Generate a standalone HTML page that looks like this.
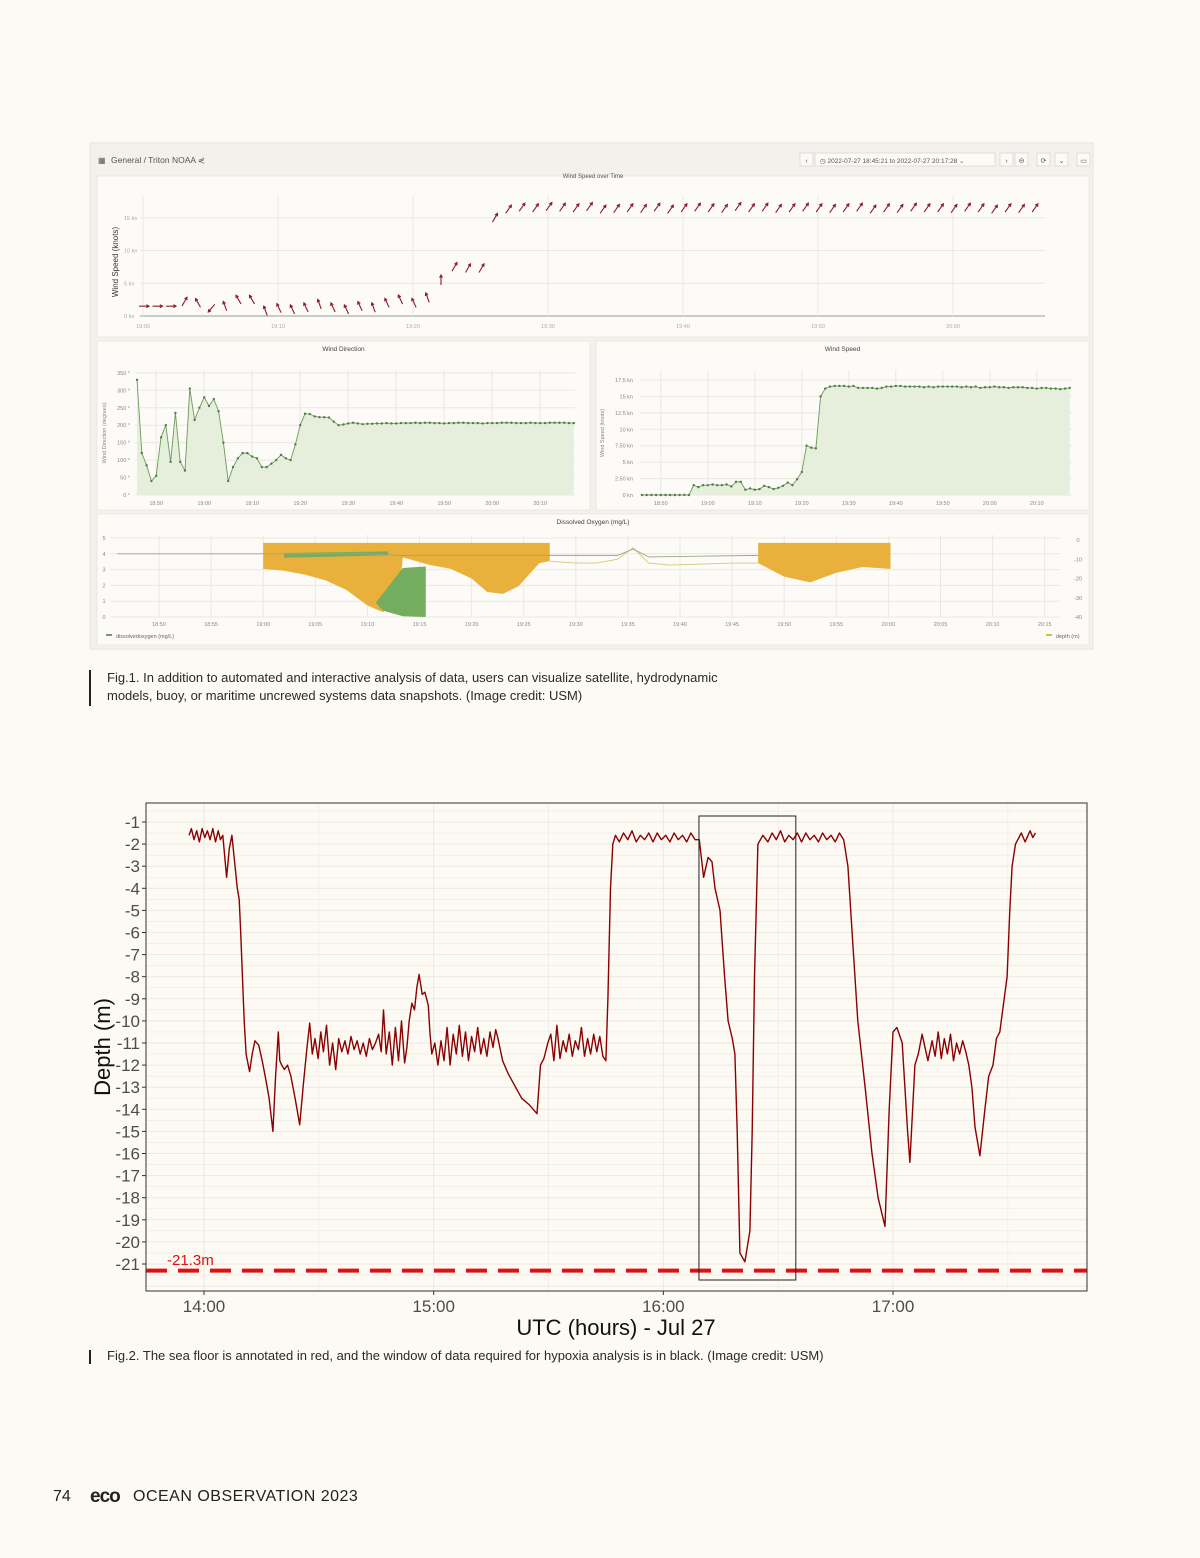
<!DOCTYPE html>
<html><head><meta charset="utf-8"><style>
html,body{margin:0;padding:0;background:#fdfaf4;}
body{width:1200px;height:1558px;position:relative;overflow:hidden;font-family:"Liberation Sans",sans-serif;}
svg{position:absolute;left:0;top:0;}
.cap{position:absolute;left:107px;font-size:13px;color:#2a2a2a;line-height:18px;}
.bar{position:absolute;left:89px;width:2px;background:#222;}
</style></head><body>
<svg id="svg" width="1200" height="1558" viewBox="0 0 1200 1558" xmlns="http://www.w3.org/2000/svg" font-family="Liberation Sans, sans-serif"></svg>
<div class="bar" style="top:670px;height:36px"></div>
<div class="cap" style="top:669px">Fig.1. In addition to automated and interactive analysis of data, users can visualize satellite, hydrodynamic<br>models, buoy, or maritime uncrewed systems data snapshots. (Image credit: USM)</div>
<div class="bar" style="top:1350px;height:14px"></div>
<div class="cap" style="top:1347px">Fig.2. The sea floor is annotated in red, and the window of data required for hypoxia analysis is in black. (Image credit: USM)</div>
<div style="position:absolute;left:53px;top:1488px;font-size:16px;color:#222;white-space:nowrap">
<span>74</span>
<span style="position:absolute;left:37px;top:-2px;font-weight:900;font-size:19px;letter-spacing:-1px">eco</span>
<span style="position:absolute;left:80px;top:0;letter-spacing:0.5px">OCEAN OBSERVATION 2023</span>
</div>
<script>
// ---------- Fig 2 data: depth (minutes after 14:00, metres) ----------
const depthMin = [-3.9,-3.3,-2.6,-1.9,-1.2,-0.5,0.2,0.9,1.6,2.3,3.0,3.7,4.3,4.9,5.9,6.6,7.3,8.0,8.7,9.2,9.6,10.5,11.0,11.9,12.6,13.3,14.3,15.2,16.1,17.0,18.0,18.7,19.4,19.8,20.3,21.0,21.8,22.7,23.9,25.0,26.0,26.9,27.6,28.3,29.0,29.8,30.5,31.2,32.0,32.8,33.6,34.4,35.2,36.0,36.8,37.6,38.4,39.2,40.0,40.8,41.6,42.4,43.2,44.0,44.8,45.6,46.3,46.9,47.6,48.4,49.2,50.0,50.8,51.6,52.4,53.0,53.6,54.3,55.0,55.6,56.2,57.0,57.7,58.6,59.0,59.5,60.3,61.1,61.9,62.7,63.5,64.3,65.1,65.9,66.7,67.5,68.3,69.1,69.9,70.7,71.5,72.3,73.1,73.9,74.7,75.5,76.2,76.8,78.0,79.5,81.4,83.0,85.0,87.0,87.9,88.8,89.8,90.6,91.4,92.2,93.0,93.8,94.6,95.4,96.2,97.0,97.8,98.6,99.4,100.2,101.0,101.8,102.6,103.4,104.2,105.0,105.5,106.2,106.8,107.5,108.5,109.6,110.7,111.8,112.9,114.0,115.1,116.2,117.3,118.4,119.5,120.6,121.7,122.8,123.9,125.0,126.1,127.2,128.3,129.4,130.5,131.7,132.7,133.5,134.8,136.0,136.9,138.0,138.7,139.3,140.0,141.3,142.6,143.2,143.8,144.7,146.0,147.3,148.4,149.5,150.6,151.7,152.8,153.9,155.0,156.1,157.2,158.3,159.4,160.5,161.6,162.7,163.8,164.9,166.0,167.1,168.2,169.3,170.8,172.7,174.5,176.1,177.9,179.0,180.0,181.0,182.4,183.1,183.8,184.4,185.7,186.6,187.6,189.1,190.2,191.0,191.8,192.6,193.4,194.2,195.0,195.8,196.6,197.4,198.2,199.0,199.8,200.6,201.4,202.7,204.0,205.0,206.1,207.0,207.9,209.8,210.5,211.1,212.0,212.6,213.5,214.5,215.8,216.5,217.2,218.0,218.8,219.7];
const depthVal = [-1.6,-1.3,-1.8,-1.4,-1.9,-1.3,-1.7,-1.4,-1.8,-1.3,-1.9,-1.4,-1.8,-1.6,-3.5,-2.2,-1.6,-2.8,-4.0,-4.5,-6,-10,-11.5,-12.3,-11.5,-10.9,-11.1,-11.8,-12.6,-13.5,-15.0,-12.5,-10.5,-11.8,-12.0,-12.2,-12.0,-12.5,-13.6,-14.7,-12.8,-11.2,-10.1,-11.5,-10.8,-11.7,-10.5,-11.4,-10.2,-12.0,-11.0,-12.2,-10.8,-11.4,-10.9,-11.5,-10.7,-11.3,-10.9,-11.5,-11.0,-11.6,-10.8,-11.3,-11.0,-10.6,-11.4,-9.5,-11.5,-10.5,-12.0,-10.3,-11.8,-10.0,-11.9,-11.2,-10.0,-9.2,-9.5,-8.5,-7.9,-8.8,-8.7,-9.3,-10.5,-11.5,-11.0,-12.0,-10.9,-11.8,-10.3,-12.0,-10.6,-11.5,-10.2,-11.6,-10.5,-11.8,-10.7,-11.4,-10.3,-11.5,-10.8,-11.6,-10.5,-11.2,-10.4,-10.8,-11.8,-12.4,-13.0,-13.5,-13.8,-14.2,-12.0,-11.7,-11.0,-10.6,-11.8,-10.2,-11.7,-10.9,-11.4,-10.6,-11.6,-10.9,-11.3,-10.3,-11.6,-10.8,-11.5,-10.6,-11.4,-10.7,-11.6,-11.8,-9,-4,-2.0,-1.6,-1.9,-1.5,-1.8,-1.4,-1.9,-1.6,-1.8,-1.5,-1.9,-1.5,-1.8,-1.6,-1.9,-1.5,-1.8,-1.6,-1.9,-1.5,-1.8,-1.8,-3.5,-2.6,-2.8,-4,-5,-8,-10,-10.8,-11.5,-15,-20.5,-20.9,-19.5,-15,-8,-2.0,-1.6,-1.9,-1.5,-1.8,-1.4,-1.9,-1.6,-1.8,-1.5,-1.9,-1.5,-1.8,-1.6,-1.9,-1.5,-1.8,-1.6,-1.9,-1.5,-1.8,-3,-6,-10,-13,-16,-18,-19.3,-14,-10.5,-10.3,-11,-13,-15,-16.4,-12,-11.5,-10.6,-11.8,-10.9,-11.6,-10.5,-11.7,-10.8,-11.5,-10.6,-11.8,-11.0,-11.5,-10.9,-11.4,-12,-13,-14.8,-16.1,-14,-12.5,-12,-10.8,-10.5,-8,-5,-3,-2,-1.8,-1.5,-1.9,-1.4,-1.7,-1.5];
const depthTicks = [-1,-2,-3,-4,-5,-6,-7,-8,-9,-10,-11,-12,-13,-14,-15,-16,-17,-18,-19,-20,-21];
const hourTicks = ["14:00","15:00","16:00","17:00"];
const seaFloor = [-21.3];
const windowMin = [129.3,154.6];

// ---------- Fig 1 data ----------
const arrowSpeed = [1.5,1.5,1.5,2.2,2,1.2,1.5,2.5,2.5,0.8,1.2,1,1.3,1.8,1.3,1,1.5,1.3,2,2.5,2,2.8,5.5,7.5,7.3,7.3,15,16.3,16.6,16.5,16.7,16.6,16.5,16.7,16.3,16.4,16.5,16.4,16.6,16.3,16.5,16.6,16.5,16.4,16.7,16.5,16.6,16.4,16.5,16.6,16.5,16.4,16.5,16.6,16.3,16.5,16.4,16.6,16.5,16.5,16.4,16.6,16.5,16.3,16.5,16.4,16.5];
const arrowDir = [90,90,90,30,-30,220,-20,-30,-30,-20,-25,-25,-25,-20,-25,-25,-25,-20,-25,-25,-25,-20,0,30,30,30,30,35,35,35,35,35,35,35,35,35,35,35,35,35,35,35,35,35,35,35,35,35,35,35,35,35,35,35,35,35,35,35,35,35,35,35,35,35,35,35,35];
const windDir = [330,120,85,40,55,165,200,95,235,95,70,305,215,250,280,255,275,240,150,40,80,105,120,120,110,105,80,80,90,100,115,105,100,145,200,233,232,225,223,223,222,210,200,202,205,207,205,203,204,204,205,205,206,205,205,206,206,206,207,206,207,207,206,206,205,206,206,207,207,206,206,206,205,206,206,206,207,207,207,206,206,206,207,206,206,206,207,207,207,207,206,206];
const windSpd = [0,0,0,0,0,0,0,0,0,0,0,1.5,1.2,1.5,1.5,1.6,1.5,1.5,1.6,1.3,2,2,0.8,1,0.8,0.9,1.4,1.2,0.9,1.1,1.4,1.9,1.5,2.4,3.5,7.5,7.2,7.1,15,16.2,16.5,16.6,16.6,16.6,16.5,16.6,16.3,16.3,16.3,16.3,16.2,16.3,16.5,16.5,16.6,16.6,16.5,16.5,16.5,16.5,16.4,16.5,16.4,16.5,16.5,16.5,16.5,16.5,16.4,16.5,16.4,16.5,16.3,16.4,16.4,16.5,16.4,16.4,16.3,16.4,16.4,16.4,16.3,16.3,16.2,16.3,16.3,16.2,16.2,16.1,16.2,16.3];
const doFillMin = [10,12,14,16,18,20,21.5,23,23.4,26,28,30,31.5,33,34.5,35.5,36.5,37.5];
const doFillDepth = [-15,-16,-18,-21,-26,-34,-37.5,-30,-9,-13,-15,-20,-27,-28,-24,-18,-12,-11];
const doFill2Min = [57.5,60,62.5,65,67.5,70.2];
const doFill2Depth = [-12,-19,-22,-17,-14,-15];
const doLineMin = [37.5,40,42,44,45.5,47,49,52,55,57.5];
const doLineDepth = [-11,-12,-12,-10,-4,-12,-13,-12.5,-12,-12];
const doMin = [-4,10,20,23,30,37.5,40,44,45.5,47,52,57.5];
const doVal = [4.0,4.0,4.0,3.9,3.9,3.9,3.9,3.9,4.3,3.8,3.85,3.9];
const doGreenMin = [20.8,23.4,25.6,25.6,23.4,21.5];
const doGreenVal = [0.9,3.1,3.2,0,0.05,0.4];

const NS='http://www.w3.org/2000/svg';
const svg=document.getElementById('svg');
function mk(tag,attrs,parent){const e=document.createElementNS(NS,tag);for(const k in attrs)e.setAttribute(k,attrs[k]);(parent||svg).appendChild(e);return e;}
function txt(x,y,s,size,fill,anchor,parent){const t=mk('text',{x:x,y:y,'font-size':size,fill:fill,'text-anchor':anchor||'start'},parent);t.textContent=s;return t;}

// ===== Fig 1 dashboard =====
const dash=mk('g',{});


mk('rect',{x:90,y:143,width:1003,height:506,fill:'#f3f1ec',stroke:'#e6e3dc'},dash);
const hb=txt(111,163,'General  /  Triton NOAA  ⋞',8.5,'#555','start',dash);


txt(98,163,'▦',8,'#555','start',dash);
const tp=mk('rect',{x:815,y:153,width:180,height:13,fill:'#fbfaf7',stroke:'#ddd'},dash);


txt(820,163,'◷  2022-07-27 18:45:21 to 2022-07-27 20:17:28  ⌄',6.5,'#555','start',dash);
[[800,'‹'],[1000,'›'],[1015,'⊖'],[1037,'⟳'],[1055,'⌄'],[1077,'▭']].forEach(function(b){mk('rect',{x:b[0],y:153,width:13,height:13,fill:'#fbfaf7',stroke:'#ddd'},dash);const t=txt(b[0]+6.5,163,b[1],7,'#555','middle',dash);});

function panel(x,y,w,h,name,title){const g=mk('g',{},dash);mk('rect',{x:x,y:y,width:w,height:h,fill:'#fcfbf7',stroke:'#ebe8e1'},g);if(title)txt(x+w/2,y+10,title,6.5,'#444','middle',g);return g;}

// -- wind speed over time (arrows)
const p1=panel(97,176,992,161,'wind-speed-arrows-panel','');
txt(593,178,'Wind Speed over Time',6,'#555','middle',p1);
const wx=function(m){return 143+m*13.5;}, wy=function(v){return 316-v*6.55;};
[0,5,10,15].forEach(function(v){mk('line',{x1:140,x2:1045,y1:wy(v),y2:wy(v),stroke:'#ebe8e2'},p1);txt(124,wy(v)+2,v+' kn',5.5,'#aaa','start',p1);});
mk('line',{x1:140,x2:1045,y1:316,y2:316,stroke:'#999'},p1);
['19:00','19:10','19:20','19:30','19:40','19:50','20:00'].forEach(function(s,i){mk('line',{x1:wx(i*10),x2:wx(i*10),y1:195,y2:316,stroke:'#ebe8e2'},p1);txt(wx(i*10),328,s,5.5,'#aaa','middle',p1);});
const yl=txt(0,0,'Wind Speed (knots)',8,'#333','middle',p1);yl.setAttribute('transform','translate(118,262) rotate(-90)');
arrowSpeed.forEach(function(s,i){const a=arrowDir[i]*Math.PI/180;const cx=wx(i)+1,cy=wy(s);const dx=Math.sin(a)*5,dy=-Math.cos(a)*5;const g=mk('g',{stroke:'#8a1c2c','stroke-width':1.1,fill:'none'},p1);mk('line',{x1:cx-dx,y1:cy-dy,x2:cx+dx,y2:cy+dy},g);const hx=cx+dx,hy=cy+dy;const b1=a+Math.PI-0.5,b2=a+Math.PI+0.5;mk('polyline',{points:(hx+Math.sin(b1)*3)+','+(hy-Math.cos(b1)*3)+' '+hx+','+hy+' '+(hx+Math.sin(b2)*3)+','+(hy-Math.cos(b2)*3)},g);});

// -- wind direction
const p2=panel(97,341,493,169,'wind-direction-panel','Wind Direction');
const dx2=function(m){return 137+m*4.8;}, dy2=function(v){return 495-v*0.349;};
[0,50,100,150,200,250,300,350].forEach(function(v){mk('line',{x1:135,x2:575,y1:dy2(v),y2:dy2(v),stroke:'#ebe8e2'},p2);txt(130,dy2(v)+2,v+' °',5.5,'#888','end',p2);});
['18:50','19:00','19:10','19:20','19:30','19:40','19:50','20:00','20:10'].forEach(function(s,i){const x=dx2(4+i*10);mk('line',{x1:x,x2:x,y1:370,y2:495,stroke:'#ebe8e2'},p2);txt(x,505,s,5.5,'#888','middle',p2);});
const yl2=txt(0,0,'Wind Direction (degrees)',5.5,'#888','middle',p2);yl2.setAttribute('transform','translate(106,433) rotate(-90)');
let pts2=windDir.map(function(v,i){return dx2(i)+','+dy2(v);});
const a2=mk('polygon',{points:dx2(0)+','+dy2(0)+' '+pts2.join(' ')+' '+dx2(windDir.length-1)+','+dy2(0),fill:'#e6efdc'},p2);
const l2=mk('polyline',{points:pts2.join(' '),fill:'none',stroke:'#6b9b5a','stroke-width':0.9},p2);
windDir.forEach(function(v,i){mk('circle',{cx:dx2(i),cy:dy2(v),r:1.2,fill:'#4f7d45'},p2);});

// -- wind speed
const p3=panel(596,341,493,169,'wind-speed-panel','Wind Speed');
const sx3=function(m){return 642+m*4.7;}, sy3=function(v){return 495-v*6.57;};
[[0,'0 kn'],[2.5,'2.50 kn'],[5,'5 kn'],[7.5,'7.50 kn'],[10,'10 kn'],[12.5,'12.5 kn'],[15,'15 kn'],[17.5,'17.5 kn']].forEach(function(t){mk('line',{x1:640,x2:1072,y1:sy3(t[0]),y2:sy3(t[0]),stroke:'#ebe8e2'},p3);txt(633,sy3(t[0])+2,t[1],5.5,'#888','end',p3);});
['18:50','19:00','19:10','19:20','19:30','19:40','19:50','20:00','20:10'].forEach(function(s,i){const x=sx3(4+i*10);mk('line',{x1:x,x2:x,y1:370,y2:495,stroke:'#ebe8e2'},p3);txt(x,505,s,5.5,'#888','middle',p3);});
const yl3=txt(0,0,'Wind Speed (knots)',5.5,'#888','middle',p3);yl3.setAttribute('transform','translate(604,433) rotate(-90)');
let pts3=windSpd.map(function(v,i){return sx3(i)+','+sy3(v);});
const a3=mk('polygon',{points:sx3(0)+','+sy3(0)+' '+pts3.join(' ')+' '+sx3(windSpd.length-1)+','+sy3(0),fill:'#e6efdc'},p3);
const l3=mk('polyline',{points:pts3.join(' '),fill:'none',stroke:'#6b9b5a','stroke-width':0.9},p3);
windSpd.forEach(function(v,i){mk('circle',{cx:sx3(i),cy:sy3(v),r:1.2,fill:'#4f7d45'},p3);});

// -- dissolved oxygen
const p4=panel(97,514,992,131,'dissolved-oxygen-panel','Dissolved Oxygen (mg/L)');
const ox=function(m){return 159+m*10.42;}, oyL=function(v){return 617-v*15.8;}, oyR=function(d){return 540-d*1.925;};
[0,1,2,3,4,5].forEach(function(v){mk('line',{x1:110,x2:1060,y1:oyL(v),y2:oyL(v),stroke:'#ebe8e2'},p4);txt(104,oyL(v)+2,v,5.5,'#888','middle',p4);});
[0,-10,-20,-30,-40].forEach(function(v){txt(1078,oyR(v)+2,v,5.5,'#888','middle',p4);});
['18:50','18:55','19:00','19:05','19:10','19:15','19:20','19:25','19:30','19:35','19:40','19:45','19:50','19:55','20:00','20:05','20:10','20:15'].forEach(function(s,i){const x=ox(i*5);mk('line',{x1:x,x2:x,y1:535,y2:617,stroke:'#ebe8e2'},p4);txt(x,626,s,5.5,'#888','middle',p4);});
function fillArea(mins,ds,name){const p=[ox(mins[0])+','+oyR(-1.5)];mins.forEach(function(m,i){p.push(ox(m)+','+oyR(ds[i]));});p.push(ox(mins[mins.length-1])+','+oyR(-1.5));const e=mk('polygon',{points:p.join(' '),fill:'#e9b13b'},p4);}
fillArea(doFillMin,doFillDepth,'depth-area-1');
fillArea(doFill2Min,doFill2Depth,'depth-area-2');
const gb=mk('polygon',{points:doGreenMin.map(function(m,i){return ox(m)+','+oyL(doGreenVal[i]);}).join(' '),fill:'#75ad5f'},p4);
const gb2=mk('polygon',{points:[[12,4.05],[22,4.15],[22,3.9],[12,3.75]].map(function(q){return ox(q[0])+','+oyL(q[1]);}).join(' '),fill:'#75ad5f'},p4);
const dl=mk('polyline',{points:doLineMin.map(function(m,i){return ox(m)+','+oyR(doLineDepth[i]);}).join(' '),fill:'none',stroke:'#d8c774','stroke-width':0.9},p4);
const ol=mk('polyline',{points:doMin.map(function(m,i){return ox(m)+','+oyL(doVal[i]);}).join(' '),fill:'none',stroke:'#9aa58c','stroke-width':0.9},p4);
mk('rect',{x:106,y:634,width:6,height:2,fill:'#7a9a5f'},p4);txt(116,638,'dissolvedoxygen (mg/L)',5.5,'#666','start',p4);
mk('rect',{x:1046,y:634,width:6,height:2,fill:'#d8c23b'},p4);txt(1056,638,'depth (m)',5.5,'#666','start',p4);

// ===== Fig 2 depth chart =====
const L=146,T=803,R=1087,B=1291;
const X=function(m){return 204+m*3.828;}, Y=function(d){return 822+(-1-d)*22.1;};
const c=mk('g',{});
mk('rect',{x:L,y:T,width:R-L,height:B-T,fill:'#fdfaf4'},c);
for(let d=-0.5;d>=-22;d-=0.5){const y=Y(d);if(y>T&&y<B)mk('line',{x1:L,x2:R,y1:y,y2:y,stroke:'#ece8e2','stroke-width':Number.isInteger(d)?1:0.6},c);}
for(let m=-30;m<=240;m+=30){const x=X(m);if(x>L&&x<R)mk('line',{x1:x,x2:x,y1:T,y2:B,stroke:'#ece8e2','stroke-width':m%60===0?1:0.6},c);}
depthTicks.forEach(function(d){const t=txt(140,Y(d)+6,String(d),17,'#4d4d4d','end',c);mk('line',{x1:142,x2:146,y1:Y(d),y2:Y(d),stroke:'#333'},c);});
hourTicks.forEach(function(s,i){const t=txt(X(i*60),1312,s,17,'#4d4d4d','middle',c);mk('line',{x1:X(i*60),x2:X(i*60),y1:B,y2:B+4,stroke:'#333'},c);});
const ln=mk('polyline',{points:depthMin.map(function(m,i){return X(m).toFixed(1)+','+Y(depthVal[i]).toFixed(1);}).join(' '),fill:'none',stroke:'#8b0000','stroke-width':1.4,'stroke-linejoin':'round'},c);


const sf=mk('line',{x1:L,x2:R,y1:Y(seaFloor[0]),y2:Y(seaFloor[0]),stroke:'#dd1111','stroke-width':4,'stroke-dasharray':'21 11'},c);


const sfl=txt(167,1265,seaFloor[0]+'m',15,'#dd1111','start',c);


const win=mk('rect',{x:X(windowMin[0]),y:816,width:X(windowMin[1])-X(windowMin[0]),height:464,fill:'none',stroke:'#222','stroke-width':1},c);


mk('rect',{x:L,y:T,width:R-L,height:B-T,fill:'none',stroke:'#333','stroke-width':1},c);
const yt=txt(0,0,'Depth (m)',22,'#111','middle',c);yt.setAttribute('transform','translate(110,1047) rotate(-90)');


const xt=txt(616,1335,'UTC (hours) - Jul 27',22,'#111','middle',c);


</script>
</body></html>
